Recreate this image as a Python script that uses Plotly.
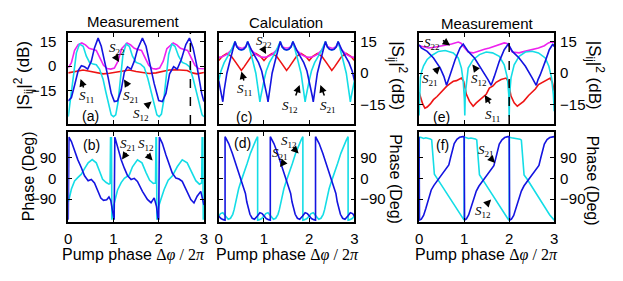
import plotly.graph_objects as go

# page is drawn with the browser's 8px body margin; lay out in page pixels
PAGE_W, PAGE_H, OFF = 623, 281, 8
W, H = PAGE_W - 2 * OFF, PAGE_H - 2 * OFF
SANS = 'Liberation Sans, Arial, sans-serif'
SERIF = 'Liberation Serif, Times New Roman, serif'
BLUE, CYAN, MAG, RED = '#1414e0', '#14dde6', '#ee22ee', '#ee1414'

# ---------------- (a) measurement |S|^2 (dB) ----------------
a_x_s21 = [0, 0.07, 0.14, 0.22, 0.29, 0.36, 0.43, 0.51, 0.58, 0.66, 0.73, 0.80, 0.88, 0.95, 1.02, 1.09, 1.17, 1.24, 1.31, 1.39,
           1.46, 1.53, 1.64, 1.72, 1.80, 1.90, 2.00, 2.08, 2.16, 2.24, 2.33, 2.41, 2.50, 2.60, 2.68, 2.76, 2.85, 2.95, 3.00]
a_s21 = [-21.0, -19.0, -11.6, -2.7, 0.2, -0.4, -1.8, 3.0, 11.0, 16.9, 12.0, 4.0, -6.7, -16.5, -21.4, -21.0, -14.5, -3.7, -0.4, -1.8,
         3.0, 10.0, 16.9, 12.0, 1.0, -10.6, -20.8, -21.4, -16.5, -4.7, -0.4, -1.8, 4.0, 13.0, 16.9, 11.0, -0.8, -16.5, -21.4]
a_x_s12 = [0, 0.04, 0.10, 0.18, 0.25, 0.33, 0.40, 0.47, 0.55, 0.62, 0.69, 0.77, 0.83, 0.89, 0.95, 1.00, 1.05, 1.10, 1.15, 1.21,
           1.28, 1.35, 1.42, 1.50, 1.60, 1.68, 1.76, 1.83, 1.90, 1.96, 2.01, 2.06, 2.11, 2.16, 2.22, 2.29, 2.36, 2.44, 2.52, 2.61,
           2.68, 2.76, 2.83, 2.90, 2.96, 3.00]
a_s12 = [-30.5, -22.0, -6.7, 8.0, 13.3, 12.0, 6.0, 2.2, 1.2, 0.8, -1.8, -8.0, -15.5, -23.5, -29.5, -30.6, -29.5, -22.0, -8.0, 7.0,
         13.3, 12.0, 6.0, 2.2, 1.2, -0.8, -7.5, -15.0, -23.5, -29.5, -30.6, -29.0, -21.0, -8.0, 7.0, 13.3, 12.0, 6.0, 2.2, 1.2,
         -0.4, -7.5, -15.0, -23.5, -29.5, -30.6]
a_x_s22 = [0, 0.07, 0.14, 0.22, 0.30, 0.38, 0.46, 0.54, 0.62, 0.70, 0.78, 0.86, 0.94, 1.02, 1.10, 1.18, 1.30, 1.38, 1.46, 1.54,
           1.62, 1.70, 1.78, 1.86, 1.94, 2.02, 2.10, 2.18, 2.32, 2.40, 2.48, 2.56, 2.64, 2.72, 2.80, 2.88, 2.95, 3.00]
a_s22 = [-1.0, 2.0, 9.5, 13.0, 14.0, 12.8, 10.8, 10.0, 9.5, 5.0, 0.5, -1.5, -1.8, -1.2, 3.0, 10.5, 14.0, 12.8, 10.8, 10.0,
         9.5, 5.0, 0.5, -1.5, -1.8, -1.2, 3.0, 10.5, 14.0, 12.8, 10.8, 10.0, 9.5, 5.0, 0.5, -1.5, -1.8, -1.6]
a_x_s11 = [0, 0.18, 0.33, 0.47, 0.62, 0.77, 0.91, 1.06, 1.20, 1.35, 1.50, 1.64, 1.79, 1.94, 2.08, 2.23, 2.38, 2.52, 2.63, 2.74,
           2.85, 3.0]
a_s11 = [-4.1, -3.3, -2.4, -3.1, -4.1, -4.7, -4.3, -3.7, -2.7, -2.4, -3.3, -4.1, -4.5, -4.1, -3.1, -2.4, -2.2, -2.7, -2.7, -4.1,
         -4.7, -3.9]

# ---------------- (b) measurement phase (deg) ----------------
b_x_s21 = [0.0, 0.015, 0.07, 0.14, 0.21, 0.29, 0.36, 0.44, 0.51, 0.58, 0.66, 0.72, 0.78, 0.85, 0.90, 0.94, 0.97, 1.00, 1.015, 1.03,
           1.09, 1.17, 1.24, 1.31, 1.39, 1.46, 1.53, 1.64, 1.75, 1.83, 1.90, 1.95, 1.985, 2.0, 2.015, 2.08, 2.16, 2.23, 2.30, 2.38,
           2.45, 2.52, 2.60, 2.71, 2.78, 2.85, 2.93, 3.0]
b_s21 = [-178, 178, 159, 116, 81, 46, 11, -10, -5, -20, -55, -85, -95, -92, -80, -95, -130, -178, -178, 178,
         137, 80, 44, 12, -5, 0, -13, -56, -91, -105, -84, -120, -175, -178, 178, 151, 101, 59, 23, 1,
         -3, -13, -49, -91, -106, -77, -56, -115]
b_x_s12 = [0.0, 0.02, 0.07, 0.14, 0.21, 0.29, 0.36, 0.44, 0.53, 0.62, 0.69, 0.76, 0.84, 0.90, 0.925, 0.935, 0.955, 0.965, 1.0, 1.04,
           1.09, 1.17, 1.24, 1.35, 1.42, 1.53, 1.63, 1.72, 1.80, 1.88, 1.93, 1.94, 1.95, 1.96, 2.0, 2.04, 2.12, 2.21, 2.30, 2.41,
           2.52, 2.63, 2.73, 2.82, 2.90, 2.95, 2.96, 2.975, 2.985, 3.0]
b_s12 = [-100, -88, -46, -11, 3, 18, 42, 67, 81, 67, 32, -4, -18, -25, -22, 175, 175, -178, -120, -88,
         -50, -18, 0, 15, 50, 80, 67, 25, -8, -22, -20, 175, 175, -178, -120, -95, -48, -8, 10, 50,
         80, 67, 25, -10, -25, -20, 175, 175, -178, -140]

# ---------------- (c) calculation |S|^2 (dB) ----------------
c_x_s21 = [0.00, 0.04, 0.07, 0.09, 0.12, 0.18, 0.25, 0.30, 0.36, 0.40, 0.45, 0.50, 0.55, 0.60, 0.64, 0.72, 0.80, 0.88, 0.95,
           1.00, 1.04, 1.07, 1.09, 1.12, 1.18, 1.25, 1.30, 1.36, 1.40, 1.45, 1.50, 1.55, 1.60, 1.64, 1.72, 1.80, 1.88, 1.95,
           2.00, 2.04, 2.07, 2.09, 2.12, 2.18, 2.25, 2.30, 2.36, 2.40, 2.45, 2.50, 2.55, 2.60, 2.64, 2.72, 2.80, 2.88, 2.95,
           3.00]
c_s21 = [-3.5, -7.5, -11, -13.5, -8, 0, 6, 10.5, 15, 12.5, 11.3, 11, 11.3, 12.5, 15, 11, 8, 5, 1,
         -3.5, -7.5, -11, -13.5, -8, 0, 6, 10.5, 15, 12.5, 11.3, 11, 11.3, 12.5, 15, 11, 8, 5, 1,
         -3.5, -7.5, -11, -13.5, -8, 0, 6, 10.5, 15, 12.5, 11.3, 11, 11.3, 12.5, 15, 11, 8, 5, 1,
         -3.5]
c_x_s12 = [0.00, 0.05, 0.12, 0.20, 0.28, 0.36, 0.40, 0.45, 0.50, 0.55, 0.60, 0.64, 0.70, 0.75, 0.82, 0.88, 0.91, 0.93, 0.96,
           1.00, 1.05, 1.12, 1.20, 1.28, 1.36, 1.40, 1.45, 1.50, 1.55, 1.60, 1.64, 1.70, 1.75, 1.82, 1.88, 1.91, 1.93, 1.96,
           2.00, 2.05, 2.12, 2.20, 2.28, 2.36, 2.40, 2.45, 2.50, 2.55, 2.60, 2.64, 2.70, 2.75, 2.82, 2.88, 2.91, 2.93, 2.96,
           3.00]
c_s12 = [-3.5, 1, 5, 8, 11, 15, 12.5, 11.3, 11, 11.3, 12.5, 15, 10.5, 6, 0, -8, -13.5, -11, -7.5,
         -3.5, 1, 5, 8, 11, 15, 12.5, 11.3, 11, 11.3, 12.5, 15, 10.5, 6, 0, -8, -13.5, -11, -7.5,
         -3.5, 1, 5, 8, 11, 15, 12.5, 11.3, 11, 11.3, 12.5, 15, 10.5, 6, 0, -8, -13.5, -11, -7.5,
         -3.5]
c_x_s22 = [0.00, 0.08, 0.17, 0.25, 0.32, 0.36, 0.41, 0.46, 0.50, 0.54, 0.59, 0.64, 0.68, 0.75, 0.83, 0.92,
           1.00, 1.08, 1.17, 1.25, 1.32, 1.36, 1.41, 1.46, 1.50, 1.54, 1.59, 1.64, 1.68, 1.75, 1.83, 1.92,
           2.00, 2.08, 2.17, 2.25, 2.32, 2.36, 2.41, 2.46, 2.50, 2.54, 2.59, 2.64, 2.68, 2.75, 2.83, 2.92,
           3.00]
c_s22 = [7.5, 7.8, 8.8, 10.3, 12.3, 14.3, 12.5, 11.9, 11.8, 11.9, 12.5, 14.3, 12.3, 10.3, 8.8, 7.8,
         7.5, 7.8, 8.8, 10.3, 12.3, 14.3, 12.5, 11.9, 11.8, 11.9, 12.5, 14.3, 12.3, 10.3, 8.8, 7.8,
         7.5, 7.8, 8.8, 10.3, 12.3, 14.3, 12.5, 11.9, 11.8, 11.9, 12.5, 14.3, 12.3, 10.3, 8.8, 7.8,
         7.5]
c_x_s11 = [0.00, 0.08, 0.18, 0.28, 0.38, 0.44, 0.50, 0.56, 0.62, 0.72, 0.82, 0.92,
           1.00, 1.08, 1.18, 1.28, 1.38, 1.44, 1.50, 1.56, 1.62, 1.72, 1.82, 1.92,
           2.00, 2.08, 2.18, 2.28, 2.38, 2.44, 2.50, 2.56, 2.62, 2.72, 2.82, 2.92,
           3.00]
c_s11 = [6, 8, 9.3, 8, 5, 3, 1.3, 3, 5, 8, 9.3, 8,
         6, 8, 9.3, 8, 5, 3, 1.3, 3, 5, 8, 9.3, 8,
         6, 8, 9.3, 8, 5, 3, 1.3, 3, 5, 8, 9.3, 8,
         6]

# ---------------- (d) calculation phase (deg) ----------------
d_x_s21 = [0.00, 0.05, 0.10, 0.14, 0.14, 0.18, 0.22, 0.30, 0.37, 0.44, 0.51, 0.56, 0.59, 0.62, 0.66, 0.69, 0.74, 0.79, 0.85, 0.91, 0.96,
           1.00, 1.05, 1.10, 1.14, 1.14, 1.18, 1.22, 1.30, 1.37, 1.44, 1.51, 1.56, 1.59, 1.62, 1.66, 1.69, 1.74, 1.79, 1.85, 1.91, 1.96,
           2.00, 2.05, 2.10, 2.14, 2.14, 2.18, 2.22, 2.30, 2.37, 2.44, 2.51, 2.56, 2.59, 2.62, 2.66, 2.69, 2.74, 2.79, 2.85, 2.91, 2.96,
           3.00]
d_s21 = [-163, -173, -178, -180, 180, 165, 150, 108, 65, 22, -14, -45, -65, -101, -135, -155, -172, -176, -163, -148, -152,
         -163, -173, -178, -180, 180, 165, 150, 108, 65, 22, -14, -45, -65, -101, -135, -155, -172, -176, -163, -148, -152,
         -163, -173, -178, -180, 180, 165, 150, 108, 65, 22, -14, -45, -65, -101, -135, -155, -172, -176, -163, -148, -152,
         -163]
d_x_s12 = [0.00, 0.04, 0.09, 0.15, 0.21, 0.26, 0.31, 0.34, 0.38, 0.41, 0.44, 0.49, 0.56, 0.63, 0.70, 0.78, 0.82, 0.86, 0.86, 0.90, 0.95,
           1.00, 1.04, 1.09, 1.15, 1.21, 1.26, 1.31, 1.34, 1.38, 1.41, 1.44, 1.49, 1.56, 1.63, 1.70, 1.78, 1.82, 1.86, 1.86, 1.90, 1.95,
           2.00, 2.04, 2.09, 2.15, 2.21, 2.26, 2.31, 2.34, 2.38, 2.41, 2.44, 2.49, 2.56, 2.63, 2.70, 2.78, 2.82, 2.86, 2.86, 2.90, 2.95,
           3.00]
d_s12 = [-163, -152, -148, -163, -176, -172, -155, -135, -101, -65, -45, -14, 22, 65, 108, 150, 165, 180, -180, -178, -173,
         -163, -152, -148, -163, -176, -172, -155, -135, -101, -65, -45, -14, 22, 65, 108, 150, 165, 180, -180, -178, -173,
         -163, -152, -148, -163, -176, -172, -155, -135, -101, -65, -45, -14, 22, 65, 108, 150, 165, 180, -180, -178, -173,
         -163]

# ---------------- (e) measurement |S|^2 (dB) ----------------
e_x_s21 = [0.00, 0.05, 0.18, 0.32, 0.47, 0.55, 0.61, 0.65, 0.69, 0.80, 0.91, 0.98, 1.03, 1.09, 1.23, 1.38, 1.53, 1.60, 1.64, 1.67,
           1.78, 1.89, 1.98, 2.02, 2.07, 2.22, 2.36, 2.51, 2.60, 2.64, 2.69, 2.80, 2.89, 2.97, 3.00]
e_s21 = [13.5, 12.0, 10.3, 7.2, 2.4, -1.5, -5.7, -3.5, -0.7, 6.4, 11.9, 13.8, 12.0, 10.3, 7.2, 2.4, -3.0, -5.7, -3.5, -1.5,
         5.6, 11.1, 13.8, 12.0, 10.3, 7.2, 3.3, -2.2, -5.7, -3.0, -0.7, 5.6, 11.1, 13.8, 12.5]
e_x_s12 = [0.00, 0.015, 0.03, 0.06, 0.10, 0.18, 0.29, 0.43, 0.58, 0.76, 0.87, 0.94, 0.98, 1.005, 1.015, 1.025, 1.05, 1.09, 1.20, 1.34,
           1.49, 1.63, 1.78, 1.89, 1.96, 1.99, 2.0, 2.01, 2.04, 2.11, 2.22, 2.36, 2.51, 2.65, 2.80, 2.88, 2.94, 2.98, 3.0]
e_s12 = [-20.0, -8.0, -2.0, 1.0, 3.5, 6.5, 8.5, 10.3, 10.7, 9.6, 7.2, 2.4, -3.8, -12.0, -20.0, -10.0, -3.8, 2.4, 6.4, 8.8,
         10.0, 9.6, 8.0, 4.0, -2.2, -10.0, -20.4, -10.0, -2.2, 4.0, 8.0, 10.0, 10.4, 9.6, 7.2, 3.3, -2.2, -10.0, -18.0]
e_x_s22 = [0.00, 0.10, 0.21, 0.34, 0.47, 0.60, 0.72, 0.87, 0.93, 0.98, 1.04, 1.09, 1.20, 1.34, 1.45, 1.56, 1.74, 1.89, 1.95, 2.00,
           2.07, 2.22, 2.32, 2.43, 2.55, 2.65, 2.78, 2.87, 2.93, 3.00]
e_s22 = [13.0, 12.5, 11.9, 12.3, 12.7, 13.2, 13.8, 14.7, 14.2, 12.7, 11.0, 10.0, 9.6, 10.7, 11.3, 11.9, 13.2, 14.3, 14.0, 12.7,
         10.0, 9.6, 10.2, 10.7, 11.3, 11.9, 13.0, 14.3, 14.7, 14.7]
e_x_s11 = [0.00, 0.04, 0.08, 0.13, 0.18, 0.25, 0.32, 0.40, 0.47, 0.54, 0.61, 0.68, 0.76, 0.83, 0.87, 0.94, 0.99, 1.05, 1.12, 1.20,
           1.27, 1.35, 1.42, 1.49, 1.56, 1.64, 1.71, 1.82, 1.93, 1.98, 2.04, 2.11, 2.18, 2.25, 2.32, 2.43, 2.50, 2.58, 2.65, 2.72,
           2.83, 2.91, 2.96, 3.00]
e_s11 = [-9.0, -12.0, -14.5, -16.5, -16.0, -14.5, -12.5, -11.0, -9.3, -8.0, -6.2, -5.0, -3.8, -3.5, -3.0, -2.3, -3.8, -10.0, -13.3, -15.6,
         -14.0, -12.5, -11.5, -10.0, -7.0, -6.0, -4.3, -3.0, -2.3, -3.8, -10.8, -14.0, -15.6, -14.5, -13.3, -10.5, -9.3, -7.5, -5.4, -4.5,
         -3.0, -2.3, -4.5, -8.6]

# ---------------- (f) measurement phase (deg) ----------------
f_x_s21 = [0.0, 0.01, 0.05, 0.10, 0.15, 0.21, 0.27, 0.33, 0.40, 0.47, 0.54, 0.61, 0.66, 0.70, 0.74, 0.78, 0.84, 0.90, 0.97, 1.0,
           1.01, 1.05, 1.10, 1.15, 1.21, 1.27, 1.33, 1.40, 1.47, 1.54, 1.61, 1.66, 1.70, 1.74, 1.78, 1.84, 1.90, 1.97, 2.0, 2.01,
           2.05, 2.10, 2.15, 2.21, 2.27, 2.33, 2.40, 2.47, 2.54, 2.61, 2.66, 2.70, 2.74, 2.78, 2.84, 2.90, 2.97, 3.0]
f_s21 = [178, -180, -176, -160, -130, -85, -50, -30, -12, 5, 22, 40, 58, 90, 125, 150, 168, 177, 180, 180,
         -180, -175, -158, -128, -88, -55, -33, -14, 3, 20, 38, 55, 85, 120, 148, 166, 176, 180, 180, -180,
         -176, -160, -132, -90, -55, -32, -13, 4, 21, 39, 56, 88, 122, 148, 167, 176, 179, 180]
f_x_s12 = [0.0, 0.005, 0.05, 0.10, 0.15, 0.20, 0.25, 0.28, 0.30, 0.32, 0.34, 0.40, 0.50, 0.60, 0.70, 0.80, 0.90, 0.98, 1.0, 1.005,
           1.05, 1.10, 1.15, 1.20, 1.25, 1.28, 1.30, 1.32, 1.34, 1.40, 1.50, 1.60, 1.70, 1.80, 1.90, 1.98, 2.0, 2.005, 2.05, 2.10,
           2.15, 2.20, 2.24, 2.27, 2.29, 2.31, 2.33, 2.40, 2.50, 2.60, 2.70, 2.80, 2.90, 3.0]
f_s12 = [-180, 178, 176, 172, 175, 174, 170, 166, 115, 35, 18, 0, -30, -62, -95, -125, -155, -176, -180, 178,
         175, 172, 174, 173, 170, 166, 112, 32, 16, -2, -32, -64, -96, -127, -157, -177, -180, 177, 175, 173,
         174, 172, 169, 165, 110, 30, 15, -4, -35, -66, -98, -128, -158, -180]

# axis settings
x_ticks = [0, 1, 2, 3]
x_ticktext = ['0', '1', '2', '3']
db_ticks = [-15, 0, 15]
deg_ticks = [-90, 0, 90]
range_a = [-35, 20]
range_ce = [-24, 19]
range_phase = [-186, 200]
dash_a = 2.7
dash_e = 2.0

fig = go.Figure()


def line(x, y, color, xa, ya):
    fig.add_trace(go.Scatter(x=x, y=y, mode='lines', line=dict(color=color, width=1.6),
                             xaxis=xa, yaxis=ya, showlegend=False, hoverinfo='skip'))


line(a_x_s22, a_s22, MAG, 'x', 'y')
line(a_x_s11, a_s11, RED, 'x', 'y')
line(a_x_s12, a_s12, CYAN, 'x', 'y')
line(a_x_s21, a_s21, BLUE, 'x', 'y')
line(b_x_s12, b_s12, CYAN, 'x2', 'y2')
line(b_x_s21, b_s21, BLUE, 'x2', 'y2')
line(c_x_s11, c_s11, RED, 'x3', 'y3')
line(c_x_s22, c_s22, MAG, 'x3', 'y3')
line(c_x_s12, c_s12, CYAN, 'x3', 'y3')
line(c_x_s21, c_s21, BLUE, 'x3', 'y3')
line(d_x_s12, d_s12, CYAN, 'x4', 'y4')
line(d_x_s21, d_s21, BLUE, 'x4', 'y4')
line(e_x_s22, e_s22, MAG, 'x5', 'y5')
line(e_x_s11, e_s11, RED, 'x5', 'y5')
line(e_x_s12, e_s12, CYAN, 'x5', 'y5')
line(e_x_s21, e_s21, BLUE, 'x5', 'y5')
line(f_x_s12, f_s12, CYAN, 'x6', 'y6')
line(f_x_s21, f_s21, BLUE, 'x6', 'y6')

fig.add_shape(type='line', xref='x', yref='y domain', x0=dash_a, x1=dash_a, y0=0, y1=1,
              line=dict(color='black', width=1.5, dash='dash'))
fig.add_shape(type='line', xref='x5', yref='y5 domain', x0=dash_e, x1=dash_e, y0=0, y1=1,
              line=dict(color='black', width=1.5, dash='dash'))


def fx(p):
    return (p - OFF) / W


def fy(p):
    return 1 - (p - OFF) / H


COLS = [[fx(65), fx(202.5)], [fx(217.5), fx(355)], [fx(420.5), fx(557.5)]]
TOP = [fy(124), fy(33)]
BOT = [fy(221.5), fy(132)]
TICKFONT = dict(family=SANS, size=15, color='black')


def xax(dom, anchor, labels):
    return dict(domain=dom, anchor=anchor, range=[0, 3], tickvals=x_ticks, ticktext=x_ticktext,
                showticklabels=labels, ticks='inside', ticklen=4, tickwidth=1, tickcolor='black',
                showline=True, linecolor='black', linewidth=1.6, mirror='ticks', showgrid=False,
                zeroline=False, tickfont=TICKFONT, ticklabelstandoff=3)


def yax(dom, anchor, rng, vals, side):
    return dict(domain=dom, anchor=anchor, range=rng, tickvals=vals, side=side,
                ticks='inside', ticklen=4, tickwidth=1, tickcolor='black',
                showline=True, linecolor='black', linewidth=1.6, mirror='ticks', showgrid=False,
                zeroline=False, tickfont=TICKFONT, ticklabelstandoff=(7 if side == 'left' else 1))


fig.update_layout(
    width=W, height=H, margin=dict(l=0, r=0, t=0, b=0),
    paper_bgcolor='white', plot_bgcolor='white',
    xaxis=xax(COLS[0], 'y', False), yaxis=yax(TOP, 'x', range_a, db_ticks, 'left'),
    xaxis2=xax(COLS[0], 'y2', True), yaxis2=yax(BOT, 'x2', range_phase, deg_ticks, 'left'),
    xaxis3=xax(COLS[1], 'y3', False), yaxis3=yax(TOP, 'x3', range_ce, db_ticks, 'right'),
    xaxis4=xax(COLS[1], 'y4', True), yaxis4=yax(BOT, 'x4', range_phase, deg_ticks, 'right'),
    xaxis5=xax(COLS[2], 'y5', False), yaxis5=yax(TOP, 'x5', range_ce, db_ticks, 'right'),
    xaxis6=xax(COLS[2], 'y6', True), yaxis6=yax(BOT, 'x6', range_phase, deg_ticks, 'right'),
)

ann = []


def label(cx, cy, text, size, family=SANS, angle=0):
    ann.append(dict(x=fx(cx), y=fy(cy), xref='paper', yref='paper', text=text, showarrow=False,
                    xanchor='center', yanchor='middle', textangle=angle,
                    font=dict(family=family, size=size, color='black')))


def arrow(tx, ty, hx, hy):
    ann.append(dict(x=fx(hx), y=fy(hy), xref='paper', yref='paper', ax=tx - hx, ay=ty - hy,
                    text='', showarrow=True, arrowhead=2, arrowsize=1.0, arrowwidth=1.5,
                    arrowcolor='black', standoff=0, startstandoff=0))


def sname(cx, cy, sub):
    label(cx, cy, '<i>S</i><sub>' + sub + '</sub>', 13, SERIF)


# titles
label(131, 21.5, 'Measurement', 15)
label(286, 23, 'Calculation', 15)
label(490, 23.5, 'Measurement', 15)
# y titles
YT_DB = '|S<sub>ij</sub>|<sup>2</sup> (dB)'
YT_PH = 'Phase (Deg)'
label(20, 75, YT_DB, 17, angle=-90)
label(24.5, 176, YT_PH, 16, angle=-90)
label(398, 76, YT_DB, 17, angle=90)
label(397, 179, YT_PH, 16, angle=90)
label(598, 75, YT_DB, 17, angle=90)
label(597, 181, YT_PH, 16, angle=90)
# x titles
XT = "Pump phase <span style='font-family:Liberation Serif'>Δ<i>φ</i> / 2<i>π</i></span>"
label(131, 255, XT, 16)
label(287.5, 255, XT, 16)
label(488.5, 255, XT, 16)
# panel tags
label(88, 116, '(a)', 14)
label(88.3, 145, '(b)', 14)
label(243.3, 116.7, '(c)', 14)
label(241.7, 143.3, '(d)', 14)
label(443.3, 116.7, '(e)', 14)
label(444, 145, '(f)', 14)

# (a)
sname(114.7, 49, '22'); arrow(112.7, 56, 116.5, 62)
sname(84, 97, '11'); arrow(81, 89, 77.5, 79)
sname(128.3, 96.7, '21'); arrow(126.5, 87.5, 121.5, 79.5)
sname(138.3, 114, '12'); arrow(142.5, 107.5, 149.5, 101.5)
# (b)
sname(125.5, 144.5, '21'); arrow(125, 151.5, 119.5, 159.5)
sname(143.5, 144.5, '12'); arrow(143.5, 153, 150.5, 160.5)
# (c)
sname(263.3, 42, '22'); arrow(261.5, 47, 265.5, 54)
sname(243.3, 90, '11'); arrow(243.3, 82, 240.5, 71.5)
sname(290, 106.7, '12'); arrow(295, 97, 299.5, 85)
sname(328.3, 106.7, '21'); arrow(325, 97, 320.5, 85)
# (d)
sname(288.3, 141.7, '12'); arrow(291.7, 146.7, 298.5, 153.5)
sname(280, 153.3, '21'); arrow(285, 160, 279.5, 167)
# (e)
sname(434, 43.5, '22'); arrow(443.3, 39.3, 452, 45.5)
sname(431.7, 80, '21'); arrow(435, 73.3, 442, 66.5)
sname(481.7, 80, '12'); arrow(480, 71.7, 474.5, 64.5)
sname(495, 115, '11'); arrow(493.3, 105, 487, 95)
# (f)
sname(488.3, 150, '21'); arrow(491.7, 156.7, 497.5, 163)
sname(485, 211.7, '12'); arrow(487.3, 206, 493.5, 199.5)

fig.update_layout(annotations=ann)
fig.write_html('out.html')
